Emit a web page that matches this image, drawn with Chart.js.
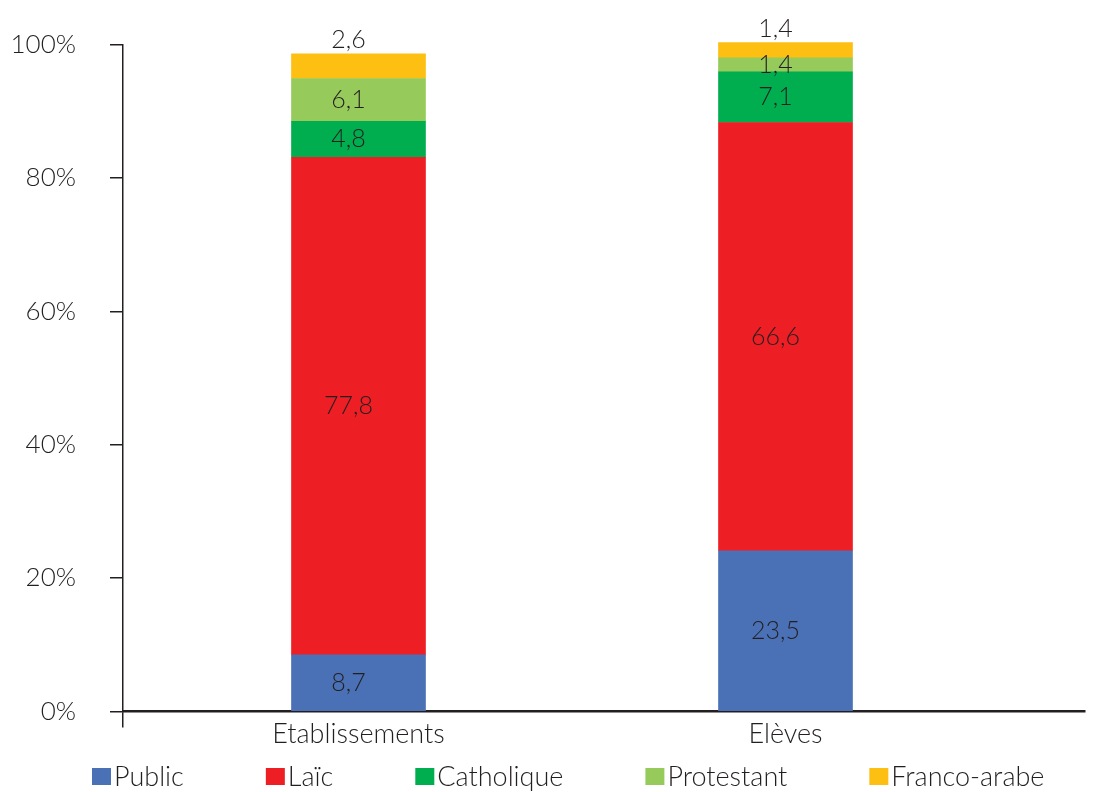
<!DOCTYPE html>
<html>
<head>
<meta charset="utf-8">
<script src="https://cdn.jsdelivr.net/npm/chart.js@4/dist/chart.umd.min.js"></script>
<style>
  html, body { margin: 0; padding: 0; background: #fff; }
  #wrap { width: 1098px; height: 792px; }
</style>
</head>
<body>
<div id="wrap"><canvas id="chart" width="1098" height="792"></canvas></div>
<script>
// categories and series (bar heights, % of total)
const categories = ["Etablissements", "Elèves"];
const seriesNames = ["Public", "Laïc", "Catholique", "Protestant", "Franco-arabe"];
const publicShare = [8.5, 24.1];
const laicShare = [74.6, 64.2];
const catholiqueShare = [5.4, 7.6];
const protestantShare = [6.4, 2.1];
const francoArabeShare = [3.7, 2.3];

// the numbers printed on the bars
const publicLabels = ["8,7", "23,5"];
const laicLabels = ["77,8", "66,6"];
const catholiqueLabels = ["4,8", "7,1"];
const protestantLabels = ["6,1", "1,4"];
const francoArabeLabels = ["2,6", "1,4"];

const yTicks = [0, 20, 40, 60, 80, 100];

const colors = ["#4a71b6", "#ee1e25", "#00ae4f", "#96cb5c", "#fdbf12"];
const ink = "#231f20";
const FONT = "Lato, 'Open Sans', sans-serif";

const shares = [publicShare, laicShare, catholiqueShare, protestantShare, francoArabeShare];
const valueLabels = [publicLabels, laicLabels, catholiqueLabels, protestantLabels, francoArabeLabels];

const datasets = seriesNames.map((name, s) => ({
    label: name,
    data: categories.map((c, i) => ({ x: i, y: shares[s][i] })),
    backgroundColor: colors[s],
    borderWidth: 0,
    barThickness: 134,
    clip: false,
    valueLabels: valueLabels[s]
}));

const barLabels = {
    id: "barLabels",
    afterDatasetsDraw(chart) {
        const ctx = chart.ctx;
        ctx.save();
        ctx.font = "300 25px " + FONT;
        ctx.fillStyle = ink;
        ctx.textAlign = "center";
        ctx.textBaseline = "middle";
        const last = chart.data.datasets.length - 1;
        chart.data.datasets.forEach((ds, s) => {
            chart.getDatasetMeta(s).data.forEach((bar, i) => {
                const p = bar.getProps(["x", "y", "base"], true);
                let y = (p.y + p.base) / 2;
                if (s === last) y = p.y - 14;
                ctx.fillText(ds.valueLabels[i], p.x - 10, y);
            });
        });
        ctx.restore();
    }
};

const bottomLegend = {
    id: "bottomLegend",
    afterDraw(chart) {
        const ctx = chart.ctx;
        ctx.save();
        ctx.font = "300 27px " + FONT;
        ctx.textBaseline = "middle";
        ctx.textAlign = "left";
        let x = 92;
        const y = 777;
        chart.data.datasets.forEach(ds => {
            ctx.fillStyle = ds.backgroundColor;
            ctx.fillRect(x, y - 9, 19, 17);
            ctx.fillStyle = ink;
            ctx.fillText(ds.label, x + 22, y);
            x += 22 + ctx.measureText(ds.label).width + 82;
        });
        ctx.restore();
    }
};

new Chart(document.getElementById("chart"), {
    type: "bar",
    data: { datasets },
    plugins: [barLabels, bottomLegend],
    options: {
        responsive: false,
        animation: false,
        layout: { padding: { top: 44.5, right: 13, left: 0, bottom: 0 } },
        plugins: {
            legend: { display: false },
            tooltip: { enabled: false }
        },
        scales: {
            x: {
                type: "linear",
                stacked: true,
                offset: false,
                min: -0.5515,
                max: 1.7014,
                afterBuildTicks: scale => {
                    scale.ticks = [{ value: scale.min }].concat(categories.map((c, i) => ({ value: i })));
                },
                afterFit: scale => { scale.height = 80.5; },
                ticks: {
                    callback: v => categories[v] ?? "",
                    color: ink,
                    font: { family: FONT, size: 27, weight: 300 },
                    padding: -9,
                    maxRotation: 0,
                    autoSkip: false
                },
                grid: {
                    display: true,
                    drawOnChartArea: false,
                    offset: false,
                    tickLength: 16,
                    lineWidth: 1.5,
                    color: c => (c.tick && c.tick.value < -0.1) ? ink : "rgba(0,0,0,0)"
                },
                border: { display: true, color: ink, width: 2.5 }
            },
            y: {
                stacked: true,
                min: 0,
                max: 100,
                afterBuildTicks: scale => {
                    scale.ticks = yTicks.map(v => ({ value: v }));
                },
                afterFit: scale => {
                    scale.width = 123;
                    scale.paddingTop = 0;
                    scale.paddingBottom = 0;
                },
                ticks: {
                    callback: v => v + "%",
                    color: ink,
                    font: { family: FONT, size: 26, weight: 300 },
                    padding: 34
                },
                grid: {
                    display: true,
                    drawOnChartArea: false,
                    tickLength: 13,
                    lineWidth: 1.5,
                    color: ink
                },
                border: { display: true, color: ink, width: 1.5 }
            }
        }
    }
});
</script>
</body>
</html>
